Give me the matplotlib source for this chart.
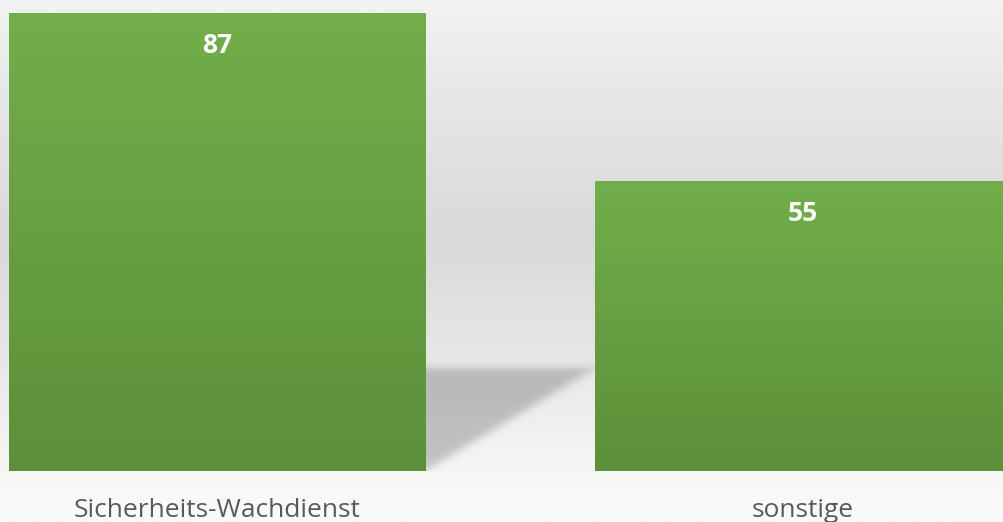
import numpy as np
import matplotlib.pyplot as plt
from matplotlib.colors import LinearSegmentedColormap

# ----------------------------
# DATA
# ----------------------------
categories = ["Sicherheits-Wachdienst", "sonstige"]
values = [87, 55]

# ----------------------------
# STYLE
# ----------------------------
BAR_TOP = "#72ae4a"
BAR_BOTTOM = "#5c8f3a"
LABEL_GREY = "#595959"
BAR_WIDTH = 0.71

fig = plt.figure(figsize=(10.04, 5.22), dpi=100)
ax = fig.add_axes([0, 0, 1, 1])
x0, x1 = -0.370, 1.343
y0, y1 = -9.69, 89.47
ax.set_xlim(x0, x1)
ax.set_ylim(y0, y1)
ax.axis("off")

# background: soft vertical grey gradient (fraction from bottom)
bg_cmap = LinearSegmentedColormap.from_list(
    "bg", [(0.0, "#fbfbfb"), (0.08, "#f7f7f7"), (0.33, "#e6e6e6"),
           (0.54, "#d9d9d9"), (0.8, "#e6e6e6"), (1.0, "#f3f3f3")])
ax.imshow(np.linspace(0, 1, 256).reshape(-1, 1), cmap=bg_cmap, aspect="auto",
          origin="lower", extent=[x0, x1, y0, y1], zorder=0)

# shadow cast by the first bar into the gap
xs_l = 0 + BAR_WIDTH / 2
xs_r = 1 - BAR_WIDTH / 2
sh_top = 19.6
gx = np.linspace(xs_l, xs_r + 0.02, 300)
gy = np.linspace(0, sh_top + 3, 200)
X, Y = np.meshgrid(gx, gy)
px_y = 5.264
d_top = (sh_top - Y) * px_y
t = (X - xs_l) / (xs_r - xs_l)
d_diag = (Y - t * sh_top) * px_y * 0.85
blur = 2.5
alpha = 1 / (1 + np.exp(-d_top / blur)) * 1 / (1 + np.exp(-d_diag / blur))
rgba = np.zeros(X.shape + (4,))
rgba[..., 3] = 0.21 * alpha
ax.imshow(rgba, origin="lower", aspect="auto",
          extent=[gx[0], gx[-1], gy[0], gy[-1]], zorder=1)

# bars with vertical gradient
bar_cmap = LinearSegmentedColormap.from_list("bar", [BAR_BOTTOM, BAR_TOP])
xpos = np.arange(len(categories))
bars = ax.bar(xpos, values, width=BAR_WIDTH, color="none", zorder=2)
for rect, v in zip(bars, values):
    grad = ax.imshow(np.linspace(0, 1, 256).reshape(-1, 1), cmap=bar_cmap,
                     aspect="auto", origin="lower",
                     extent=[rect.get_x(), rect.get_x() + rect.get_width(), 0, v],
                     zorder=2)
    grad.set_clip_path(rect)

# value labels
for xp, v in zip(xpos, values):
    ax.text(xp, v - 6.1, str(v), ha="center", va="center", color="white",
            fontsize=19, fontweight="bold", family="Open Sans", zorder=3)

# category labels
for xp, c in zip(xpos, categories):
    ax.text(xp, -7.5, c, ha="center", va="center", color=LABEL_GREY,
            fontsize=19, family="Open Sans", zorder=3)

fig.savefig("out.png", dpi=100)
